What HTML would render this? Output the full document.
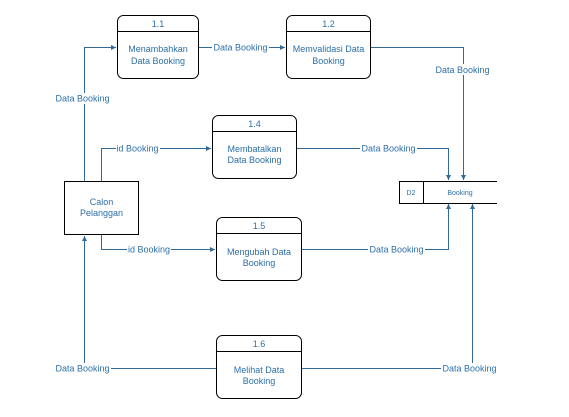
<!DOCTYPE html>
<html><head><meta charset="utf-8"><style>
html,body{margin:0;padding:0;background:#fff;}
svg{display:block;}
text{font-family:"Liberation Sans",sans-serif;font-size:9px;fill:#2c6fa8;}
.box{fill:#fff;stroke:#000;stroke-width:1;}
.ln{fill:none;stroke:#2f6a98;stroke-width:1;}
.lbl{fill:#fff;}
</style></head><body>
<svg width="569" height="417" viewBox="0 0 569 417" xmlns="http://www.w3.org/2000/svg">
<defs>
<marker id="a" markerWidth="6" markerHeight="6" refX="5" refY="3" orient="auto" markerUnits="userSpaceOnUse">
<path d="M0,0.5 L5,3 L0,5.5 Z" fill="#2f6a98"/>
</marker>
</defs>
<!-- connectors -->
<path class="ln" d="M84.5,181 V47.5 H116" marker-end="url(#a)"/>
<path class="ln" d="M199,47.5 H285" marker-end="url(#a)"/>
<path class="ln" d="M101.5,181 V148.5 H211" marker-end="url(#a)"/>
<path class="ln" d="M371,47.5 H463.5 V180" marker-end="url(#a)"/>
<path class="ln" d="M297,148.5 H448.5 V180" marker-end="url(#a)"/>
<path class="ln" d="M101.5,235 V249.5 H215" marker-end="url(#a)"/>
<path class="ln" d="M302,249.5 H448.5 V204" marker-end="url(#a)"/>
<path class="ln" d="M216,368.5 H84.5 V236" marker-end="url(#a)"/>
<path class="ln" d="M302,368.5 H472.5 V204" marker-end="url(#a)"/>
<!-- labels -->
<rect class="lbl" x="212" y="42" width="57" height="11"/><text x="240.5" y="50.5" text-anchor="middle">Data Booking</text>
<rect class="lbl" x="54" y="93" width="57" height="11"/><text x="82.5" y="101.5" text-anchor="middle">Data Booking</text>
<rect class="lbl" x="116" y="143" width="44" height="11"/><text x="137.5" y="151.5" text-anchor="middle">id Booking</text>
<rect class="lbl" x="434" y="64" width="57" height="11"/><text x="462.5" y="73" text-anchor="middle">Data Booking</text>
<rect class="lbl" x="360" y="143" width="57" height="11"/><text x="388.5" y="151.5" text-anchor="middle">Data Booking</text>
<rect class="lbl" x="127" y="244" width="44" height="11"/><text x="149" y="252.5" text-anchor="middle">id Booking</text>
<rect class="lbl" x="368" y="244" width="57" height="11"/><text x="396.5" y="252.5" text-anchor="middle">Data Booking</text>
<rect class="lbl" x="54" y="363" width="57" height="11"/><text x="82.5" y="371.5" text-anchor="middle">Data Booking</text>
<rect class="lbl" x="441" y="363" width="57" height="11"/><text x="469.5" y="371.5" text-anchor="middle">Data Booking</text>
<!-- processes -->
<g>
<rect class="box" x="117.5" y="15.5" width="81" height="63" rx="6"/><line x1="117.5" y1="31.5" x2="198.5" y2="31.5" stroke="#000"/>
<text x="158" y="27" text-anchor="middle">1.1</text>
<text x="158" y="52" text-anchor="middle">Menambahkan</text><text x="158" y="64" text-anchor="middle">Data Booking</text>
</g>
<g>
<rect class="box" x="286.5" y="15.5" width="84" height="63" rx="6"/><line x1="286.5" y1="31.5" x2="370.5" y2="31.5" stroke="#000"/>
<text x="328.5" y="27" text-anchor="middle">1.2</text>
<text x="328.5" y="52" text-anchor="middle">Memvalidasi Data</text><text x="328.5" y="64" text-anchor="middle">Booking</text>
</g>
<g>
<rect class="box" x="212.5" y="115.5" width="84" height="63" rx="6"/><line x1="212.5" y1="131.5" x2="296.5" y2="131.5" stroke="#000"/>
<text x="254.5" y="127" text-anchor="middle">1.4</text>
<text x="254.5" y="152" text-anchor="middle">Membatalkan</text><text x="254.5" y="163" text-anchor="middle">Data Booking</text>
</g>
<g>
<rect class="box" x="216.5" y="217.5" width="85" height="63" rx="6"/><line x1="216.5" y1="233.5" x2="301.5" y2="233.5" stroke="#000"/>
<text x="259" y="229" text-anchor="middle">1.5</text>
<text x="259" y="255" text-anchor="middle">Mengubah Data</text><text x="259" y="266" text-anchor="middle">Booking</text>
</g>
<g>
<rect class="box" x="216.5" y="335.5" width="85" height="63" rx="6"/><line x1="216.5" y1="351.5" x2="301.5" y2="351.5" stroke="#000"/>
<text x="259" y="347" text-anchor="middle">1.6</text>
<text x="259" y="373" text-anchor="middle">Melihat Data</text><text x="259" y="384" text-anchor="middle">Booking</text>
</g>
<!-- external entity -->
<rect class="box" x="64.5" y="181.5" width="74" height="53"/>
<text x="101.5" y="205" text-anchor="middle">Calon</text><text x="101.5" y="216" text-anchor="middle">Pelanggan</text>
<!-- data store -->
<path d="M497,181.5 H399.5 V203.5 H497 M423.5,181.5 V203.5" fill="none" stroke="#000"/>
<text x="411" y="195" text-anchor="middle" style="font-size:7px">D2</text>
<text x="460" y="195" text-anchor="middle" style="font-size:7px">Booking</text>
</svg>
</body></html>
